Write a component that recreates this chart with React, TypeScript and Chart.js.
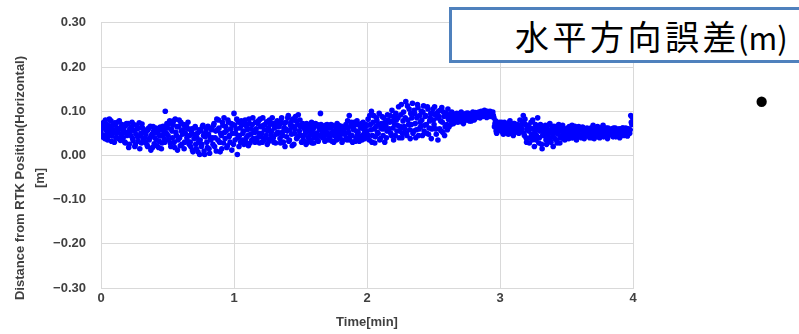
import React, { useEffect, useRef } from "react";
import { Chart, registerables } from "chart.js";

Chart.register(...registerables);

// Horizontal error [m]; two interleaved sample series, each one sample every 0.5 s (0–4 min)
const sampleMinutes = 1 / 120;
const offsetMinutes = 1 / 240;
const horizontalErrorA: number[] = [
  .055,.072,.041,.063,.080,.048,.035,.067,.052,.078,.044,.058,.030,.069,.050,.075,.038,.061,.046,.070,
  .040,.065,.028,.072,.052,.018,.060,.045,.075,.033,.056,.024,.068,.042,.062,.015,.050,.071,.036,.058,
  .030,.055,.020,.062,.040,.012,.048,.065,.026,.052,.035,.060,.018,.044,.058,.028,.066,.038,.100,.050,
  .062,.035,.078,.020,.055,.070,.030,.082,.045,.012,.065,.040,.075,.025,.058,.015,.050,.068,.032,.060,
  .045,.020,.060,.008,.038,.065,.015,.050,.030,.002,.055,.025,.068,.010,.042,.060,.018,.048,.005,.035,
  .062,.025,.072,.040,.010,.058,.080,.030,.050,.015,.068,.085,.038,.055,.022,.075,.045,.060,.012,.070,
  .095,.035,.060,.002,.075,.045,.030,.068,.050,.025,.080,.040,.058,.022,.072,.048,.035,.085,.055,.030,
  .060,.040,.078,.028,.065,.050,.085,.035,.070,.045,.025,.062,.080,.038,.055,.072,.030,.066,.048,.078,
  .050,.070,.028,.085,.045,.062,.020,.075,.055,.090,.035,.068,.048,.082,.025,.060,.078,.040,.092,.055,
  .065,.030,.072,.045,.058,.025,.070,.040,.062,.035,.075,.050,.028,.066,.042,.070,.032,.058,.095,.048,
  .040,.065,.032,.058,.070,.045,.035,.062,.050,.068,.030,.055,.042,.072,.038,.060,.048,.066,.035,.058,
  .050,.070,.035,.062,.090,.045,.075,.030,.058,.068,.040,.078,.052,.032,.065,.072,.045,.060,.038,.070,
  .055,.082,.035,.070,.100,.045,.090,.028,.065,.078,.050,.095,.038,.072,.060,.085,.030,.068,.055,.080,
  .060,.090,.045,.078,.035,.070,.095,.055,.085,.040,.065,.115,.050,.098,.060,.122,.045,.080,.105,.038,
  .070,.118,.055,.095,.040,.085,.108,.060,.075,.100,.045,.112,.068,.090,.050,.105,.062,.085,.038,.095,
  .080,.110,.060,.095,.035,.088,.102,.055,.075,.098,.045,.090,.070,.105,.065,.085,.078,.095,.072,.090,
  .082,.095,.075,.090,.078,.098,.085,.072,.092,.088,.080,.096,.085,.090,.078,.094,.088,.082,.097,.090,
  .090,.098,.085,.100,.092,.088,.102,.095,.086,.098,.092,.100,.088,.095,.090,.065,.078,.050,.070,.060,
  .072,.055,.068,.048,.075,.060,.052,.070,.058,.078,.050,.065,.045,.072,.060,.055,.068,.050,.080,.062,
  .060,.090,.045,.070,.030,.065,.055,.040,.075,.035,.060,.020,.070,.045,.085,.028,.055,.065,.015,.050,
  .045,.068,.025,.058,.040,.072,.030,.060,.020,.050,.065,.035,.055,.070,.028,.062,.045,.038,.060,.042,
  .050,.062,.038,.058,.045,.068,.040,.055,.060,.035,.052,.065,.042,.058,.048,.062,.038,.055,.050,.045,
  .055,.040,.062,.048,.068,.038,.058,.045,.065,.050,.040,.060,.052,.068,.044,.056,.062,.038,.058,.050,
  .048,.060,.042,.055,.062,.045,.052,.058,.040,.055,.048,.062,.045,.052,.058,.044,.060,.050,.090,.070,
];
const horizontalErrorB: number[] = [
  .048,.065,.075,.038,.058,.070,.044,.082,.060,.032,.068,.052,.074,.040,.062,.055,.078,.034,.066,.050,
  .058,.030,.068,.045,.072,.025,.055,.064,.038,.070,.020,.048,.060,.032,.074,.044,.028,.062,.052,.040,
  .048,.024,.058,.035,.066,.045,.018,.055,.040,.062,.022,.050,.032,.064,.015,.046,.056,.030,.062,.072,
  .045,.072,.028,.060,.040,.078,.018,.052,.065,.035,.080,.022,.055,.048,.070,.030,.062,.040,.075,.025,
  .030,.055,.012,.048,.062,.025,.040,.008,.058,.035,.020,.065,.045,.002,.052,.030,.066,.015,.040,.058,
  .040,.068,.020,.055,.082,.035,.062,.008,.045,.075,.028,.052,.065,.018,.080,.042,.030,.072,.050,.025,
  .068,.050,.082,.040,.020,.062,.078,.035,.055,.072,.030,.065,.045,.082,.028,.060,.070,.038,.052,.075,
  .035,.072,.050,.082,.042,.030,.068,.058,.040,.076,.055,.032,.070,.048,.085,.040,.062,.028,.075,.052,
  .065,.038,.078,.052,.030,.072,.060,.042,.085,.032,.058,.075,.022,.065,.050,.088,.038,.070,.045,.080,
  .045,.068,.035,.062,.050,.072,.030,.055,.045,.068,.028,.060,.040,.072,.050,.035,.065,.045,.070,.060,
  .055,.045,.068,.035,.050,.062,.040,.070,.032,.055,.045,.065,.035,.052,.068,.042,.058,.030,.062,.048,
  .062,.040,.078,.052,.035,.068,.045,.060,.075,.032,.055,.048,.070,.040,.062,.035,.075,.050,.065,.042,
  .068,.045,.090,.058,.030,.075,.060,.042,.085,.052,.070,.035,.062,.088,.045,.065,.075,.040,.092,.058,
  .075,.050,.102,.062,.088,.045,.080,.068,.110,.055,.092,.040,.078,.065,.085,.050,.112,.070,.058,.095,
  .085,.050,.102,.072,.058,.115,.045,.090,.065,.080,.098,.055,.088,.070,.110,.048,.078,.095,.060,.105,
  .070,.092,.048,.085,.100,.060,.078,.108,.052,.088,.065,.095,.058,.082,.092,.070,.098,.080,.088,.076,
  .088,.078,.094,.084,.090,.076,.092,.086,.080,.095,.090,.084,.078,.092,.086,.098,.080,.090,.086,.094,
  .094,.090,.096,.088,.094,.098,.090,.096,.100,.092,.088,.096,.094,.098,.085,.072,.055,.068,.062,.075,
  .060,.075,.052,.065,.058,.070,.062,.048,.075,.055,.068,.060,.072,.052,.064,.070,.058,.062,.055,.070,
  .075,.050,.082,.040,.058,.068,.028,.062,.048,.080,.042,.052,.035,.062,.058,.040,.070,.025,.045,.060,
  .055,.035,.062,.048,.070,.032,.052,.042,.066,.038,.058,.028,.048,.062,.040,.055,.068,.050,.035,.058,
  .058,.045,.065,.052,.040,.060,.048,.066,.042,.055,.062,.045,.058,.040,.064,.050,.058,.045,.062,.052,
  .045,.060,.050,.040,.058,.062,.048,.055,.042,.060,.055,.046,.064,.042,.058,.050,.045,.062,.048,.056,
  .055,.045,.062,.050,.042,.058,.048,.060,.052,.045,.062,.050,.056,.062,.046,.054,.050,.058,.075,.085,
];

const yTickLabels = ["\u22120.30", "\u22120.20", "\u22120.10", "0.00", "0.10", "0.20", "0.30"];
const xTickLabels = ["0", "1", "2", "3", "4"];
const yTitleLines = ["Distance from RTK Position(Horizontal)", "[m]"];
const xTitle = "Time[min]";
const boxTitleMain = "水平方向誤差";
const boxTitleUnit = "(m)";

const FONT_FAMILY = "'Liberation Sans', Arial, sans-serif";
const TICK_FONT = { family: FONT_FAMILY, size: 13, weight: "bold" as const };
const TEXT_COLOR = "#404040";
const GRID_COLOR = "#d9d9d9";
const POINT_COLOR = "rgb(0,0,255)";

const yTitlePlugin = {
  id: "yTitlePlugin",
  afterDraw(chart: any) {
    const ctx = chart.ctx;
    ctx.save();
    ctx.fillStyle = TEXT_COLOR;
    ctx.font = `bold 13px ${FONT_FAMILY}`;
    ctx.textAlign = "center";
    ctx.textBaseline = "middle";
    const xs = [20, 40];
    yTitleLines.forEach((line, i) => {
      ctx.save();
      ctx.translate(xs[i], 178);
      ctx.rotate(-Math.PI / 2);
      ctx.fillText(line, 0, 0);
      ctx.restore();
    });
    ctx.restore();
  },
};

export default function App() {
  const canvasRef = useRef<HTMLCanvasElement | null>(null);

  useEffect(() => {
    document.body.style.margin = "0";
    const canvas = canvasRef.current;
    if (!canvas) return;
    const pointsA = horizontalErrorA.map((v, i) => ({ x: i * sampleMinutes, y: v }));
    const pointsB = horizontalErrorB.map((v, i) => ({ x: i * sampleMinutes + offsetMinutes, y: v }));
    const ds = (data: any[]) => ({
      data,
      backgroundColor: POINT_COLOR,
      borderWidth: 0,
      pointRadius: 2.8,
      pointHoverRadius: 2.8,
    });
    const chart = new Chart(canvas, {
      type: "scatter",
      data: { datasets: [ds(pointsA), ds(pointsB)] },
      options: {
        responsive: false,
        animation: false,
        devicePixelRatio: 1,
        layout: { padding: { left: 0, top: 17, right: 166, bottom: 0 }, autoPadding: false },
        plugins: { legend: { display: false }, tooltip: { enabled: false } },
        scales: {
          x: {
            type: "linear",
            min: 0,
            max: 4,
            afterFit: (s: any) => {
              s.height = 46;
            },
            ticks: {
              stepSize: 1,
              padding: 3,
              font: TICK_FONT,
              color: TEXT_COLOR,
              maxRotation: 0,
              callback: (_v: any, i: number) => xTickLabels[i],
            },
            grid: { color: GRID_COLOR, drawTicks: false },
            border: { color: GRID_COLOR },
            title: {
              display: true,
              text: xTitle,
              font: { family: FONT_FAMILY, size: 13, weight: "bold" },
              color: TEXT_COLOR,
              padding: { top: 0, bottom: 4 },
            },
          },
          y: {
            type: "linear",
            min: -0.3,
            max: 0.3,
            afterFit: (s: any) => {
              s.width = 101;
            },
            ticks: {
              stepSize: 0.1,
              padding: 15,
              font: TICK_FONT,
              color: TEXT_COLOR,
              callback: (_v: any, i: number) => yTickLabels[i],
            },
            grid: { color: GRID_COLOR, drawTicks: false },
            border: { color: GRID_COLOR },
          },
        },
      },
      plugins: [yTitlePlugin],
    } as any);
    return () => chart.destroy();
  }, []);

  return (
    <div style={{ position: "relative", width: 799, height: 334, overflow: "hidden", background: "#fff" }}>
      <canvas ref={canvasRef} width={799} height={334} style={{ width: 799, height: 334, display: "block" }} />
      <div
        style={{
          position: "absolute",
          left: 449,
          top: 7,
          width: 380,
          height: 50,
          border: "3px solid #4F81BD",
          background: "#fff",
          boxSizing: "content-box",
        }}
      >
        <div
          style={{
            position: "absolute",
            left: 63,
            top: 3,
            fontFamily: "'Noto Sans CJK JP', sans-serif",
            fontSize: 34,
            lineHeight: "46px",
            color: "#000",
            whiteSpace: "nowrap",
          }}
        >
          <span style={{ letterSpacing: 3.5 }}>{boxTitleMain}</span>
          <span style={{ fontSize: 31, letterSpacing: 0, marginLeft: -2 }}>{boxTitleUnit}</span>
        </div>
      </div>
      <div
        style={{
          position: "absolute",
          left: 755,
          top: 82,
          fontFamily: FONT_FAMILY,
          fontSize: 38,
          lineHeight: "40px",
          color: "#000",
        }}
      >
        •
      </div>
    </div>
  );
}
